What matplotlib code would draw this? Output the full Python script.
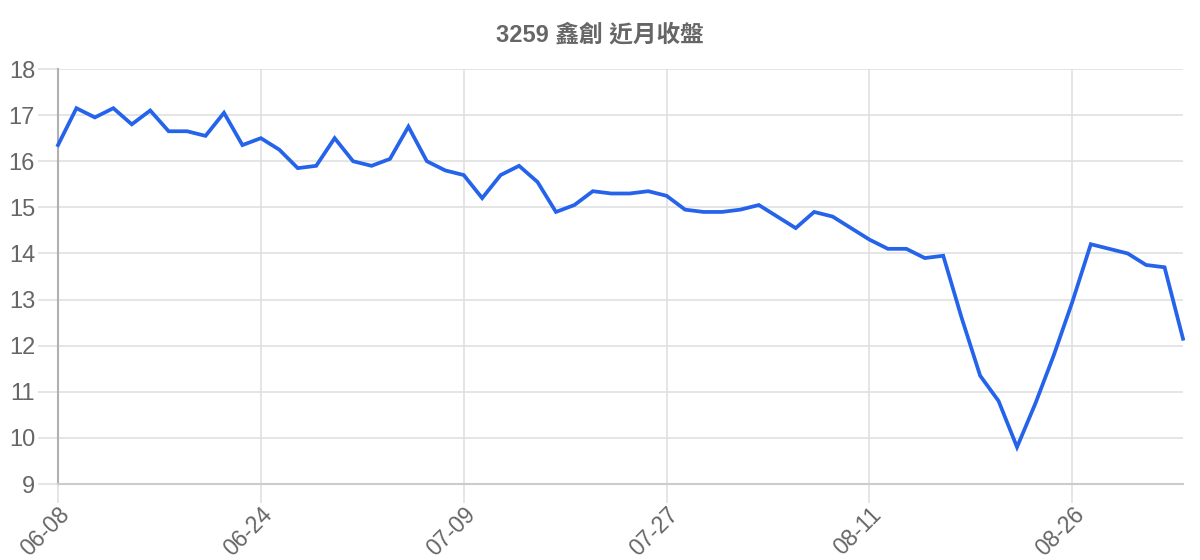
import matplotlib
matplotlib.use("Agg")
import matplotlib.pyplot as plt

# closing prices, one per trading day
closes = [
    16.35, 17.15, 16.95, 17.15, 16.80, 17.10, 16.65, 16.65, 16.55, 17.05,
    16.35, 16.50, 16.25, 15.85, 15.90, 16.50, 16.00, 15.90, 16.05, 16.75,
    16.00, 15.80, 15.70, 15.20, 15.70, 15.90, 15.55, 14.90, 15.05, 15.35,
    15.30, 15.30, 15.35, 15.25, 14.95, 14.90, 14.90, 14.95, 15.05, 14.80,
    14.55, 14.90, 14.80, 14.55, 14.30, 14.10, 14.10, 13.90, 13.95, 12.60,
    11.35, 10.80, 9.80, 10.75, 11.80, 12.95, 14.20, 14.10, 14.00, 13.75,
    13.70, 12.15,
]
tick_labels = ["06-08", "06-24", "07-09", "07-27", "08-11", "08-26"]
tick_step = 11
y_ticks = [9, 10, 11, 12, 13, 14, 15, 16, 17, 18]

title = "3259 鑫創 近月收盤"

text_color = "#666666"
grid_color = "#e0e0e0"
line_color = "#2563eb"

plt.rcParams['font.family'] = ['Liberation Sans', 'Noto Sans CJK TC', 'DejaVu Sans']

fig = plt.figure(figsize=(12, 5.6), dpi=100)
ax = fig.add_axes([58 / 1200, 1 - 484 / 560, (1183 - 58) / 1200, (484 - 69) / 560])

x = list(range(len(closes)))
ax.plot(x, closes, color=line_color, linewidth=2.7, solid_joinstyle='miter',
        zorder=3, clip_on=False)

ax.set_xlim(0, len(closes) - 1)
ax.set_ylim(y_ticks[0], y_ticks[-1])

xt = [i * tick_step for i in range(len(tick_labels))]
ax.set_xticks(xt)
ax.set_xticklabels(tick_labels, rotation=45, ha='right', va='top',
                   rotation_mode='anchor')
ax.set_yticks(y_ticks)
ax.set_yticklabels([str(v) for v in y_ticks])

ax.grid(True, color=grid_color, linewidth=1.2, zorder=0)
ax.tick_params(axis='both', colors=grid_color, labelcolor=text_color,
               labelsize=17, width=1.2)
ax.tick_params(axis='y', length=14.5, pad=2)
ax.tick_params(axis='x', length=13.5, pad=0, labelsize=16.5)

for side in ['top', 'right']:
    ax.spines[side].set_visible(False)
ax.spines['left'].set_color('#b0b0b0')
ax.spines['left'].set_linewidth(1.5)
ax.spines['bottom'].set_color('#cccccc')
ax.spines['bottom'].set_linewidth(1.5)

fig.text(0.5, 1 - 35 / 560, title, ha='center', va='center',
         fontsize=17, fontweight='bold', color=text_color)

fig.savefig("out.png", dpi=100)
